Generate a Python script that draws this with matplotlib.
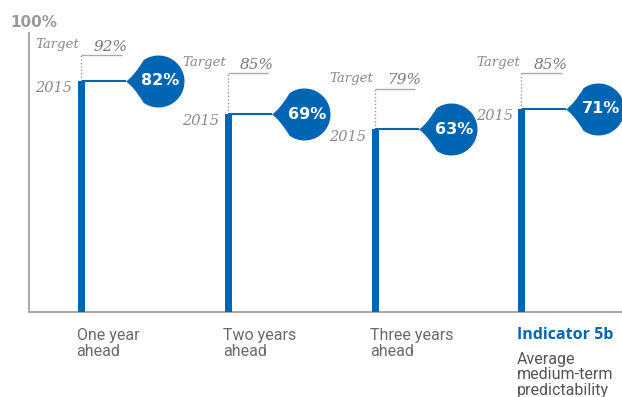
import matplotlib
matplotlib.use("Agg")
import matplotlib.pyplot as plt
from matplotlib.path import Path
import numpy as np

# Data
categories = ["One year\nahead", "Two years\nahead", "Three years\nahead", ""]
values_2015 = [82, 69, 63, 71]
targets = [92, 85, 79, 85]
indicator_title = "Indicator 5b"
indicator_text = "Average\nmedium-term\npredictability"

BLUE = "#0066b3"
AXIS_GREY = "#aaaaaa"
SERIF_GREY = "#8a8a8a"

# Geometry in pixels (figure 622 x 397 at dpi 100)
W, H = 622, 397
px_per_x = 146.8          # distance between bars
y_min, y_max = -8.6, 100.8

fig = plt.figure(figsize=(W / 100, H / 100), dpi=100)
ax = fig.add_axes([29 / W, (H - 312) / H, (W - 29) / W, (312 - 33) / H])
ax.set_xlim((29 - 81.5) / px_per_x, (622 - 81.5) / px_per_x)
ax.set_ylim(y_min, y_max)
ax.set_xticks([])
ax.set_yticks([])
for s in ["top", "right"]:
    ax.spines[s].set_visible(False)
for s in ["left", "bottom"]:
    ax.spines[s].set_color(AXIS_GREY)
    ax.spines[s].set_linewidth(1.5)

# Teardrop marker pointing left: unit circle + tip
tip = 1.25
arc = Path.arc(-125, 125)
a0 = arc.vertices[0]
verts = [(-tip, 0), (-0.95, -0.2), tuple(a0)]
codes = [Path.MOVETO, Path.CURVE3, Path.CURVE3]
verts += [tuple(v) for v in arc.vertices[1:]]
codes += list(arc.codes[1:])
verts += [(-0.95, 0.2), (-tip, 0), (-tip, 0)]
codes += [Path.CURVE3, Path.CURVE3, Path.CLOSEPOLY]
drop = Path(verts, codes)
radius_px = 26
drop_size = 2 * tip * radius_px * 0.72

x = np.arange(len(values_2015))
bar_w = 7 / px_per_x
tip_off = 44 / px_per_x
ctr_off = 76 / px_per_x
tgt_len = 40 / px_per_x

ax.bar(x, [v - y_min for v in values_2015], bottom=y_min, width=bar_w,
       color=BLUE, zorder=3)

for xi, v, t, lab in zip(x, values_2015, targets, categories):
    # connector and bubble
    ax.hlines(v, xi, xi + tip_off, color=BLUE, lw=1.5, zorder=3)
    ax.plot(xi + ctr_off, v, marker=drop, markersize=drop_size,
            color=BLUE, markeredgewidth=0, zorder=4)
    ax.text(xi + ctr_off + 0.02, v, f"{v}%", color="white", fontsize=11.5,
            fontweight="bold", family="DejaVu Sans", ha="center", va="center",
            zorder=5)

    # target marker
    ax.vlines(xi - 0.004, v, t, color="#999999", lw=1, linestyles=(0, (1, 1.5)),
              zorder=2)
    ax.hlines(t, xi - 0.004, xi + tgt_len, color=AXIS_GREY, lw=1, zorder=2)
    ax.annotate(f"{t}%", (xi + 0.195, t), xytext=(0, 3), textcoords="offset points",
                ha="center", va="baseline", fontsize=11, style="italic",
                family="DejaVu Serif", color="#7a7a7a")
    ax.annotate("Target", (xi, t), xytext=(-1.5, 5), textcoords="offset points",
                ha="right", va="baseline", fontsize=9.5, style="italic",
                family="DejaVu Serif", color=SERIF_GREY)

    # 2015 label
    ax.annotate("2015", (xi, v), xytext=(-6.5, -8), textcoords="offset points",
                ha="right", va="baseline", fontsize=10.5, style="italic",
                family="DejaVu Serif", color=SERIF_GREY)

    # category label (baseline of last line)
    if lab:
        ax.annotate(lab, (xi - bar_w / 2, y_min), xytext=(-1, -31.7),
                    textcoords="offset points", ha="left", va="baseline",
                    fontsize=11.5, family="Roboto", color="#6a6a6a",
                    linespacing=1.05, annotation_clip=False)

xi = x[-1]
ax.annotate(indicator_title, (xi - bar_w / 2, y_min), xytext=(-1, -19.4),
            textcoords="offset points", ha="left", va="baseline", fontsize=11.5,
            fontweight="bold", family="Open Sans", color=BLUE,
            annotation_clip=False)
ax.annotate(indicator_text, (xi - bar_w / 2, y_min), xytext=(-1, -59.8),
            textcoords="offset points", ha="left", va="baseline", fontsize=11.5,
            family="Roboto", color="#555555", linespacing=1.05,
            annotation_clip=False)

# 100% label at top of axis
ax.annotate("100%", (ax.get_xlim()[0], y_max), xytext=(3.5, 2.5),
            textcoords="offset points", ha="center", va="bottom",
            fontsize=11, fontweight="bold", family="DejaVu Sans",
            color="#999999", annotation_clip=False)

fig.savefig("out.png", dpi=100)
plt.close(fig)
